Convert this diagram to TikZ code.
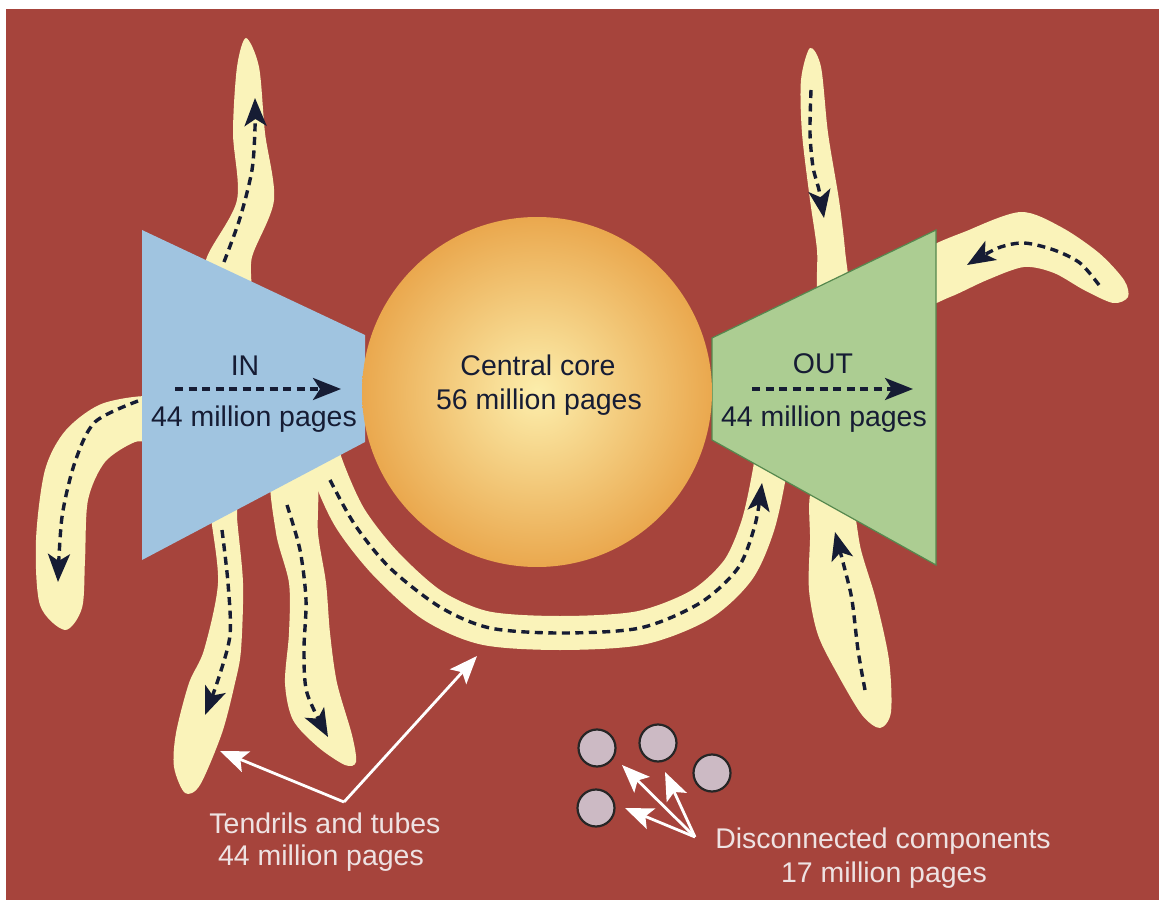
\documentclass[tikz,border=0pt]{standalone}
\usepackage{fontspec}
\setmainfont{Liberation Sans}
\usetikzlibrary{arrows.meta}

\definecolor{bgred}{RGB}{166,68,60}
\definecolor{inblue}{RGB}{160,196,224}
\definecolor{outgreen}{RGB}{172,205,146}
\definecolor{greenline}{RGB}{86,136,78}
\definecolor{cream}{RGB}{250,243,186}
\definecolor{corelight}{RGB}{252,238,172}
\definecolor{coreorange}{RGB}{234,168,78}
\definecolor{ink}{RGB}{22,28,52}
\definecolor{pale}{RGB}{238,226,226}
\definecolor{compgray}{RGB}{204,186,196}

\begin{document}
\begin{tikzpicture}[x=0.1mm, y=-0.1mm,
txt/.style={font=\fontsize{8.1}{9.7}\selectfont, text=ink, inner sep=0pt, anchor=base},
wtxt/.style={txt, text=pale},
tendril/.style={fill=cream},
tube/.style={draw=cream, line width=3.4mm},
flow/.style={draw=ink, line width=0.34mm, dash pattern=on 0.8mm off 0.55mm, -{Stealth[length=2.8mm, width=2.2mm, inset=0.7mm]}},
ptr/.style={draw=white, line width=0.28mm, -{Stealth[length=2.8mm, width=2.2mm, inset=0.6mm]}},
comp/.style={circle, draw=black!85, line width=0.22mm, fill=compgray, minimum size=3.7mm, inner sep=0pt}
]
\useasboundingbox (0,0) rectangle (1159,900);
\fill[white] (0,0) rectangle (1159,900);
\fill[bgred] (6,9) rectangle (1159,900);

\fill[tendril] plot[smooth cycle] coordinates {(200,300) (207,257) (237,200) (233,133) (237,67) (246,38) (259,67) (265,133) (274,200) (252,257) (248,300)};
\fill[tendril] plot[smooth cycle] coordinates {(160,398) (104,403) (66,430) (45,470) (36,540) (40,605) (65,630) (82,608) (85,560) (88,500) (105,462) (135,442) (160,440)};
\fill[tendril] plot[smooth cycle] coordinates {(210,490) (211,517) (218,583) (204,650) (189,683) (176,733) (174,767) (185,793) (200,785) (222,733) (235,683) (241,650) (243,583) (237,517) (238,490)};
\fill[tendril] plot[smooth cycle] coordinates {(272,470) (276,533) (289,583) (289,633) (285,683) (293,720) (318,747) (345,765) (356,762) (352,735) (337,683) (330,633) (326,583) (318,533) (315,470)};
\draw[tube] plot[smooth] coordinates {(312,420) (328,470) (350,518) (385,563) (432,605) (485,628) (560,633) (640,628) (700,605) (738,570) (758,525) (770,470) (775,430)};
\fill[tendril] plot[smooth cycle] coordinates {(819,300) (817,250) (810,200) (802,133) (801,80) (810,48) (821,67) (828,133) (839,200) (845,250) (848,300)};
\fill[tendril] plot[smooth cycle] coordinates {(920,255) (969,230) (1021,212) (1061,227) (1099,253) (1124,280) (1128,297) (1113,303) (1084,290) (1054,273) (1024,267) (987,280) (950,297) (920,305)};
\fill[tendril] plot[smooth cycle] coordinates {(812,490) (810,540) (809,590) (818,635) (838,675) (862,715) (880,728) (891,712) (889,660) (876,600) (861,550) (848,490)};

\fill[inblue] (142,230) -- (365,335) -- (365,442) -- (142,560) -- cycle;
\filldraw[fill=outgreen, draw=greenline, line width=0.12mm] (712,338) -- (936,230) -- (936,565) -- (712,440) -- cycle;
\shade[inner color=corelight, outer color=coreorange] (537,392) circle [radius=17.5mm];

\draw[flow] plot[smooth] coordinates {(224,262) (240,218) (252,170) (255,128) (255,98)};
\draw[flow] plot[smooth] coordinates {(138,401) (95,422) (75,462) (62,517) (58,582)};
\draw[flow] plot[smooth] coordinates {(222,530) (228,583) (230,635) (218,680) (205,715)};
\draw[flow] plot[smooth] coordinates {(287,505) (300,550) (306,600) (304,650) (307,693) (328,737)};
\draw[flow] plot[smooth] coordinates {(330,480) (355,525) (390,568) (440,607) (490,628) (560,633) (640,628) (700,603) (738,568) (755,525) (762,483)};
\draw[flow] plot[smooth] coordinates {(811,90) (810,133) (813,167) (819,190) (824,218)};
\draw[flow] plot[smooth] coordinates {(1099,285) (1080,263) (1054,250) (1024,243) (998,248) (967,265)};
\draw[flow] plot[smooth] coordinates {(865,690) (858,650) (852,600) (845,570) (835,532)};

\coordinate (inA) at (175,389);
\coordinate (inB) at (341,389);
\coordinate (outA) at (752,389);
\coordinate (outB) at (913,389);
\draw[flow] (inA) -- (inB);
\draw[flow] (outA) -- (outB);

\node[txt] (inlbl) at (245,375) {IN};
\node[txt] (incnt) at (254,427) {44 million pages};
\node[txt] (corelbl) at (538,375) {Central core};
\node[txt] (corecnt) at (539,409) {56 million pages};
\node[txt] (outlbl) at (823,373) {OUT};
\node[txt] (outcnt) at (824,427) {44 million pages};

\node[comp] (c1) at (597,748) {};
\node[comp] (c2) at (658,743) {};
\node[comp] (c3) at (712,773) {};
\node[comp] (c4) at (596,808) {};

\coordinate (tv) at (344,802);
\coordinate (tl) at (220,751);
\coordinate (tr) at (477,656);
\draw[ptr] (tv) -- (tl);
\draw[ptr] (tv) -- (tr);

\coordinate (dv) at (695,837);
\coordinate (d1) at (622,765);
\coordinate (d2) at (665,772);
\coordinate (d3) at (625,808);
\draw[ptr] (dv) -- (d1);
\draw[ptr] (dv) -- (d2);
\draw[ptr] (dv) -- (d3);

\node[wtxt] (tlbl) at (325,833) {Tendrils and tubes};
\node[wtxt] (tcnt) at (321,865) {44 million pages};
\node[wtxt] (dlbl) at (883,848) {Disconnected components};
\node[wtxt] (dcnt) at (884,882) {17 million pages};
\end{tikzpicture}
\end{document}
